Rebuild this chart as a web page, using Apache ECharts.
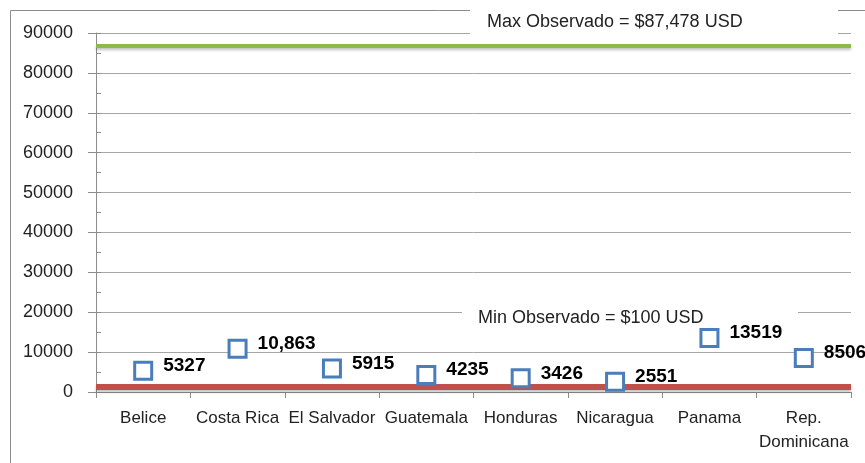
<!DOCTYPE html>
<html>
<head>
<meta charset="utf-8">
<script src="https://cdn.jsdelivr.net/npm/echarts@6/dist/echarts.min.js"></script>
<style>
  html, body { margin: 0; padding: 0; background: #fff; }
  #chart { width: 865px; height: 463px; }
</style>
</head>
<body>
<div id="chart"></div>
<script>
// datos
var paises = ["Belice", "Costa Rica", "El Salvador", "Guatemala", "Honduras", "Nicaragua", "Panama", "Rep.\nDominicana"];
var valores = [5327, 10863, 5915, 4235, 3426, 2551, 13519, 8506];
var etiquetas = ["5327", "10,863", "5915", "4235", "3426", "2551", "13519", "8506"];
var maxLinea = 86800;
var minLinea = 1300;
var textoMax = "Max Observado = $87,478 USD";
var textoMin = "Min Observado = $100 USD";

var myChart = echarts.init(document.getElementById("chart"));
var fuente = "Liberation Sans, Arial, sans-serif";

myChart.setOption({
  animation: false,
  backgroundColor: "#fff",
  grid: { left: 96, right: 14, top: 33, bottom: 71, containLabel: false },
  xAxis: {
    type: "category",
    data: paises,
    boundaryGap: true,
    axisLine: { lineStyle: { color: "#8c8c8c", width: 1 } },
    axisTick: { show: true, length: 6, lineStyle: { color: "#8c8c8c" } },
    axisLabel: { interval: 0, color: "#222", fontSize: 17, fontFamily: fuente, margin: 14, lineHeight: 24 },
    splitLine: { show: false }
  },
  yAxis: [
    {
      type: "value",
      min: 0,
      max: 90000,
      interval: 10000,
      axisLine: { show: true, lineStyle: { color: "#8c8c8c" } },
      axisTick: { show: true, length: 8, lineStyle: { color: "#8c8c8c" } },
      axisLabel: { color: "#222", fontSize: 18, fontFamily: fuente, margin: 23, formatter: function (v) { return String(v); } },
      splitLine: { show: true, lineStyle: { color: "#a6a6a6", width: 1 } }
    },
    {
      // ticks menores hacia adentro
      type: "value",
      position: "left",
      min: 0,
      max: 90000,
      interval: 5000,
      axisLine: { show: false },
      axisTick: { show: true, inside: true, length: 5, lineStyle: { color: "#8c8c8c" } },
      axisLabel: { show: false },
      splitLine: { show: false }
    }
  ],
  series: [
    {
      name: "PIB",
      type: "scatter",
      data: valores,
      symbol: "rect",
      symbolSize: 17,
      z: 5,
      emphasis: { disabled: true },
      itemStyle: { color: "#fff", borderColor: "#4a7ebb", borderWidth: 3, opacity: 1 },
      label: {
        show: true,
        position: "right",
        distance: 10,
        offset: [0, -5],
        color: "#000",
        fontSize: 19,
        fontWeight: "bold",
        fontFamily: fuente,
        formatter: function (p) { return etiquetas[p.dataIndex]; }
      },
      markLine: {
        silent: true,
        symbol: "none",
        label: { show: false },
        data: [
          { yAxis: maxLinea, lineStyle: { color: "#8cbb45", width: 4, type: "solid", shadowColor: "rgba(0,0,0,0.25)", shadowBlur: 3, shadowOffsetY: 2 } },
          { yAxis: minLinea, lineStyle: { color: "#c0504d", width: 6, type: "solid", shadowColor: "rgba(0,0,0,0.25)", shadowBlur: 3, shadowOffsetY: 2 } }
        ]
      }
    }
  ],
  graphic: [
    { type: "rect", z: 0, shape: { x: 10.5, y: 10.5, width: 900, height: 500 }, style: { fill: null, stroke: "#8c8c8c", lineWidth: 1 } },
    { type: "rect", z: 50, shape: { x: 470, y: 6, width: 368, height: 29 }, style: { fill: "#fff" } },
    { type: "text", z: 51, x: 487, y: 22, style: { text: textoMax, font: "18px " + fuente, fill: "#222", verticalAlign: "middle" } },
    { type: "rect", z: 1, shape: { x: 462, y: 306, width: 336, height: 20 }, style: { fill: "#fff" } },
    { type: "text", z: 51, x: 478, y: 318, style: { text: textoMin, font: "18px " + fuente, fill: "#222", verticalAlign: "middle" } }
  ]
});
</script>
</body>
</html>
